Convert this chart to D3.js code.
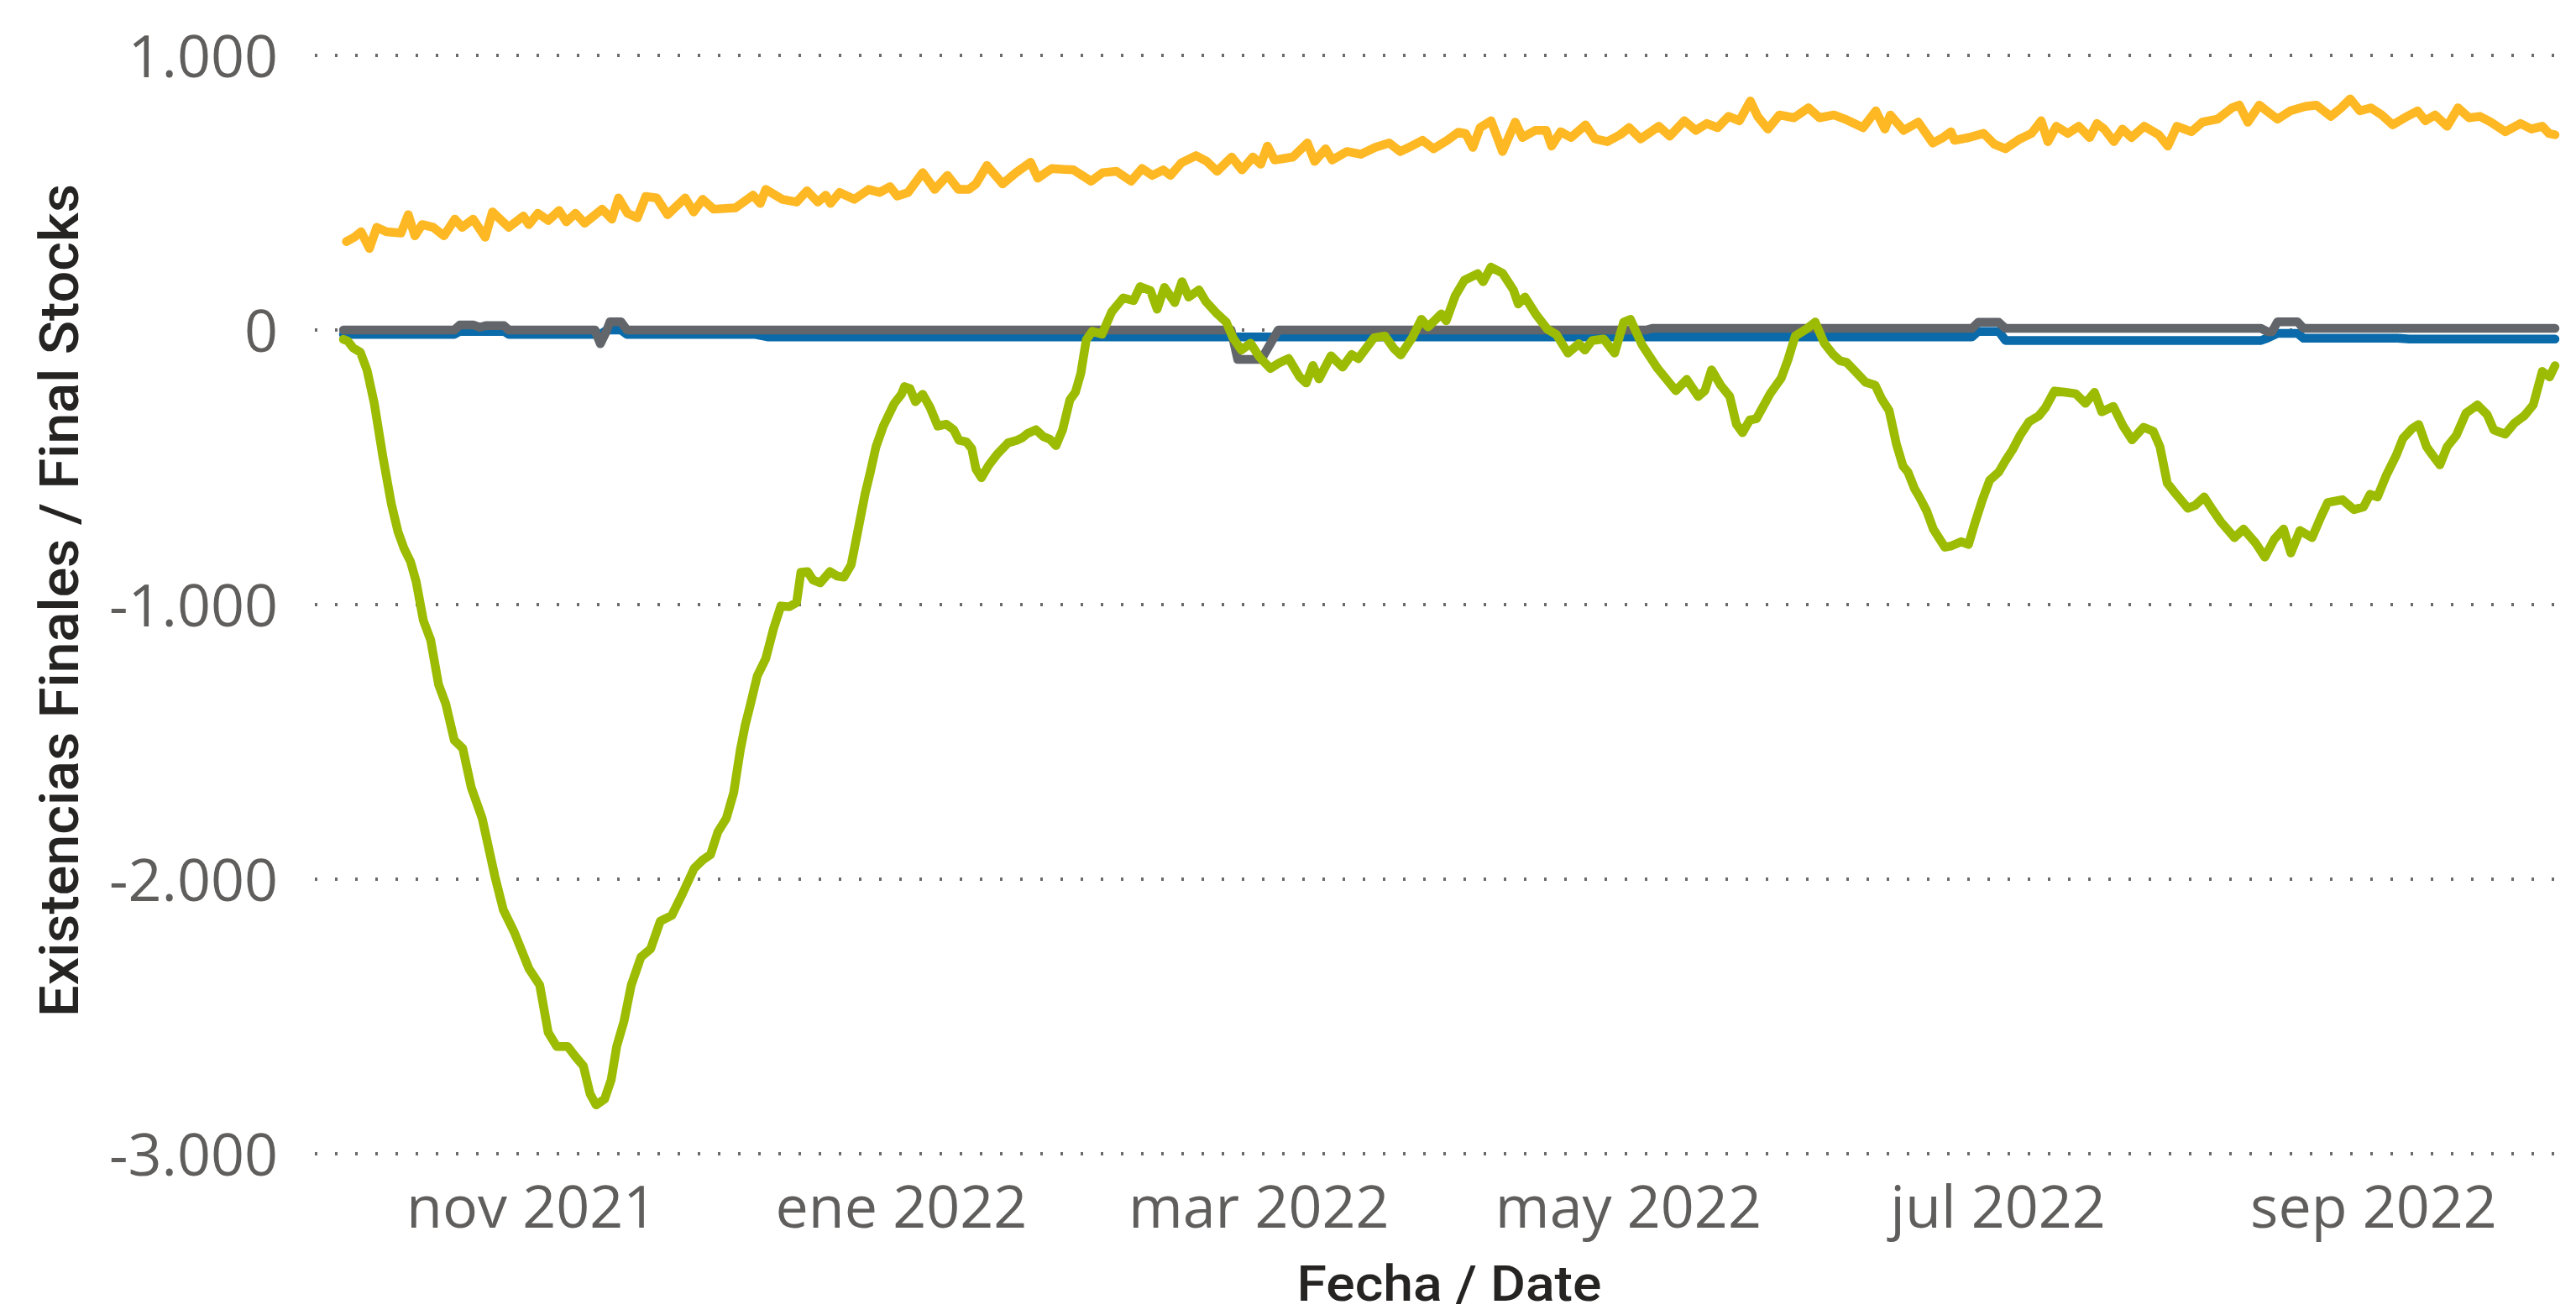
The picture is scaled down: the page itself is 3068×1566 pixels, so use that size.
<!DOCTYPE html>
<html><head><meta charset="utf-8">
<script src="https://cdn.jsdelivr.net/npm/d3@7"></script>
<style>html,body{margin:0;padding:0;background:#fff;overflow:hidden}</style>
</head><body>
<svg id="chart" width="3068" height="1566"></svg>
<script>
// ---------- DATA ----------
// x values are days since seriesStart
const seriesStart = "2021-10-01";
const seriesEnd = "2022-10-01";
const yTicks = [1000, 0, -1000, -2000, -3000];
const yTickLabels = ["1.000", "0", "-1.000", "-2.000", "-3.000"];
const xTickDates = ["2021-11-01", "2022-01-01", "2022-03-01", "2022-05-01", "2022-07-01", "2022-09-01"];
const xTickLabels = ["nov 2021", "ene 2022", "mar 2022", "may 2022", "jul 2022", "sep 2022"];
const xTitle = "Fecha / Date";
const yTitle = "Existencias Finales / Final Stocks";

const orangePoints = [[0.5,322],[1.8,338],[2.9,358],[4.3,297],[5.5,374],[7.1,358],[9.5,353],[10.7,420],[11.8,343],[13.0,384],[14.8,374],[16.6,343],[18.4,404],[19.6,374],[21.4,404],[23.4,338],[24.6,430],[27.3,374],[29.7,415],[30.6,384],[32.1,425],[33.8,399],[35.6,435],[36.8,394],[38.3,425],[39.8,389],[42.7,440],[44.3,404],[45.4,481],[46.9,425],[48.5,409],[49.9,486],[51.7,481],[53.5,420],[56.4,481],[57.8,430],[59.3,476],[61.1,440],[64.7,445],[67.6,491],[68.8,461],[69.7,512],[72.4,476],[74.8,466],[76.5,507],[78.3,466],[79.6,491],[80.4,461],[81.9,501],[84.3,476],[86.7,512],[88.5,501],[90.2,522],[91.4,488],[93.2,501],[95.6,573],[97.6,512],[99.7,563],[101.5,512],[103.2,512],[104.4,532],[106.2,599],[108.8,532],[111.0,573],[113.4,611],[114.6,553],[116.9,588],[120.5,583],[123.4,542],[125.3,573],[127.6,578],[130.0,542],[131.8,588],[133.5,563],[135.3,583],[136.5,563],[138.3,609],[140.7,635],[142.5,614],[144.2,578],[146.6,630],[148.3,583],[150.1,630],[151.4,604],[152.5,670],[153.7,619],[156.7,630],[159.1,681],[160.3,614],[162.1,660],[163.2,619],[165.6,650],[167.9,640],[170.3,665],[172.6,681],[174.4,650],[176.3,670],[178.1,691],[179.9,660],[182.2,691],[184.0,720],[185.2,716],[186.4,665],[187.6,737],[189.4,762],[191.3,650],[193.4,757],[194.6,701],[196.7,727],[198.5,727],[199.4,670],[200.9,722],[202.6,701],[205.0,747],[206.6,696],[208.6,686],[210.7,711],[212.2,737],[214.1,696],[217.1,742],[218.9,706],[221.3,762],[223.2,727],[225.0,752],[226.8,737],[228.6,778],[230.4,762],[232.2,834],[233.4,778],[235.1,732],[237.0,783],[239.4,773],[241.8,809],[243.6,773],[246.0,783],[247.8,768],[250.8,737],[252.9,798],[254.4,732],[255.3,783],[257.5,727],[259.9,757],[262.3,681],[264.0,701],[265.3,722],[265.9,691],[268.3,701],[270.7,716],[272.5,676],[274.3,660],[276.7,696],[278.6,716],[280.2,762],[281.3,686],[282.7,742],[284.6,716],[286.4,742],[288.2,701],[289.4,752],[290.6,732],[292.2,686],[293.6,732],[295.1,701],[297.2,742],[299.6,711],[301.1,670],[302.6,742],[305.0,722],[306.8,757],[309.3,768],[311.7,809],[312.9,819],[314.3,757],[316.2,819],[317.7,793],[319.2,768],[321.3,798],[323.8,814],[325.6,819],[328.0,778],[329.7,809],[331.2,842],[332.8,798],[334.6,809],[336.4,783],[338.2,747],[340.6,778],[342.3,798],[343.6,762],[345.2,783],[347.2,742],[349.0,809],[350.8,773],[352.6,778],[354.4,757],[356.8,722],[359.3,752],[361.1,732],[362.9,742],[364.0,716],[365.0,711]];

const bluePoints = [[0,-16],[18.3,-16],[19.2,-5],[26.5,-5],[27.3,-16],[42.4,-16],[43.5,0],[45.8,0],[46.8,-16],[68,-16],[70,-25],[268.8,-25],[269.8,-5],[273.2,-5],[274.3,-38],[316.5,-38],[317.5,-30],[319.2,-12],[322.5,-12],[323.5,-30],[339,-30],[341,-33],[365,-33]];

const grayPoints = [[0,0],[18.3,0],[19.2,18],[21.5,18],[22.5,10],[23.5,16],[26.5,16],[27.3,0],[41.5,0],[42.4,-50],[43.3,-10],[44.0,30],[45.8,30],[46.8,0],[146.5,0],[147.6,-107],[151.5,-107],[154.3,0],[215,0],[216,6],[268.8,6],[269.8,28],[273.2,28],[274.3,6],[316.5,6],[317.5,-6],[318.3,-6],[319.2,30],[322.5,30],[323.5,6],[365,6]];

const greenPoints = [[0,-34],[0.7,-40],[1.6,-65],[2.8,-81],[3.9,-146],[5.1,-268],[6.5,-460],[7.9,-632],[9.0,-734],[10.0,-795],[11.1,-845],[12.0,-916],[13.2,-1058],[14.4,-1129],[15.7,-1291],[16.9,-1362],[18.3,-1494],[19.7,-1524],[21.1,-1666],[22.9,-1778],[25.0,-1990],[26.4,-2112],[28.2,-2193],[30.6,-2325],[32.4,-2386],[33.8,-2558],[35.2,-2609],[37.0,-2609],[38.4,-2649],[39.6,-2680],[40.7,-2781],[41.7,-2822],[43.1,-2801],[44.2,-2730],[45.1,-2609],[46.3,-2518],[47.5,-2386],[49.1,-2284],[50.7,-2254],[52.3,-2153],[54.2,-2132],[56.0,-2051],[57.9,-1960],[59.3,-1930],[60.6,-1910],[61.8,-1828],[63.2,-1778],[64.4,-1686],[65.5,-1530],[66.3,-1440],[67.1,-1370],[68.3,-1260],[69.7,-1197],[71.0,-1087],[72.2,-1005],[73.6,-1008],[74.8,-992],[75.5,-882],[76.6,-880],[77.5,-910],[78.7,-921],[80.3,-880],[81.5,-896],[82.6,-900],[83.8,-855],[84.9,-732],[86.1,-596],[87.0,-514],[87.9,-425],[89.1,-350],[90.9,-268],[92.1,-234],[92.6,-206],[93.5,-213],[94.4,-261],[95.6,-234],[96.8,-281],[98.1,-350],[99.5,-343],[100.7,-363],[101.6,-402],[102.8,-407],[103.7,-432],[104.4,-507],[105.3,-538],[106.5,-493],[107.9,-452],[109.7,-411],[111.1,-402],[112.0,-393],[112.9,-377],[114.3,-363],[115.5,-388],[116.6,-398],[117.6,-421],[118.7,-363],[119.9,-254],[120.8,-227],[121.7,-158],[122.6,-36],[123.6,-5],[125.2,-15],[126.8,66],[128.7,117],[130.4,107],[131.5,158],[133.2,143],[134.3,76],[135.5,155],[137.2,100],[138.4,176],[139.5,120],[141.2,146],[142.3,105],[144.2,59],[145.7,29],[146.8,-28],[148.2,-73],[149.7,-48],[151.2,-99],[153.0,-140],[154.5,-119],[156.0,-104],[157.8,-170],[158.9,-193],[160.0,-129],[161.0,-178],[163.0,-94],[164.9,-135],[166.4,-89],[167.5,-104],[170.1,-28],[171.9,-22],[173.4,-68],[174.5,-91],[176.4,-28],[177.9,39],[179.0,11],[181.2,59],[182.0,34],[183.5,125],[185.0,181],[187.2,205],[188.1,176],[189.4,229],[191.3,207],[193.1,146],[193.9,95],[195.0,120],[196.9,54],[198.7,3],[200.2,-17],[202.1,-84],[203.9,-50],[204.9,-73],[206.1,-38],[208.0,-33],[209.8,-84],[211.3,29],[212.4,39],[214.3,-53],[216.9,-140],[219.9,-221],[221.7,-180],[223.6,-242],[224.7,-221],[225.8,-145],[227.3,-201],[228.8,-242],[229.9,-343],[230.9,-374],[232.1,-328],[233.2,-323],[235.5,-231],[237.3,-175],[238.4,-109],[239.6,-22],[241.4,3],[242.9,29],[244.4,-48],[245.9,-90],[247.0,-112],[248.1,-118],[249.5,-150],[251.2,-190],[252.8,-201],[253.9,-252],[255.1,-293],[256.3,-415],[257.4,-496],[258.2,-517],[259.3,-578],[260.1,-608],[261.3,-659],[262.4,-725],[264.3,-791],[265.4,-786],[267.0,-771],[268.2,-781],[269.3,-700],[270.5,-618],[271.7,-547],[273.2,-517],[274.3,-476],[275.5,-435],[276.7,-384],[278.2,-334],[279.8,-313],[280.9,-283],[282.4,-222],[284.3,-227],[285.9,-232],[287.5,-267],[289.0,-227],[290.2,-298],[292.1,-278],[293.7,-349],[295.2,-400],[297.1,-354],[298.7,-369],[299.8,-425],[301.0,-557],[302.1,-588],[304.4,-649],[305.6,-639],[307.1,-608],[308.3,-649],[309.9,-700],[312.1,-756],[313.6,-725],[314.8,-756],[315.6,-776],[317.1,-827],[318.7,-761],[320.2,-725],[321.4,-812],[322.9,-730],[324.9,-756],[326.4,-679],[327.5,-628],[329.9,-618],[331.8,-654],[333.4,-644],[334.5,-598],[335.7,-608],[337.2,-527],[338.8,-456],[339.9,-395],[341.4,-359],[342.5,-344],[343.8,-425],[344.8,-456],[346.0,-491],[347.2,-425],[348.7,-384],[350.3,-303],[352.2,-273],[353.8,-308],[354.9,-364],[356.8,-379],[358.3,-339],[359.9,-313],[361.4,-273],[362.9,-151],[364.1,-171],[365.0,-130]];

// ---------- DRAWING ----------
const svg = d3.select("#chart");
const parseDate = d3.utcParse("%Y-%m-%d");
const t0 = parseDate(seriesStart);
const dayToDate = d => new Date(t0.getTime() + d * 864e5);

const x = d3.scaleUtc().domain([t0, parseDate(seriesEnd)]).range([409, 3043]);
const y = d3.scaleLinear().domain([-3000, 1000]).range([1374, 66]);

const gridLeft = 375, gridRight = 3045;
const tickFont = "'Segoe UI', 'Open Sans', sans-serif";
const titleFont = "'DIN', Roboto, 'Noto Sans', sans-serif";

// gridlines
svg.append("g").selectAll("line").data(yTicks).join("line")
  .attr("x1", gridLeft).attr("x2", gridRight)
  .attr("y1", d => y(d)).attr("y2", d => y(d))
  .attr("stroke", "#6a6a6a").attr("stroke-width", 4)
  .attr("stroke-dasharray", "3,21");

// y axis labels
const yAxis = d3.axisLeft(y).tickValues(yTicks)
  .tickFormat((d, i) => yTickLabels[i]).tickSize(0).tickPadding(0);
svg.append("g").attr("transform", "translate(331,0)").call(yAxis)
  .call(g => g.select(".domain").remove())
  .selectAll("text")
  .attr("font-family", tickFont).attr("font-size", 70)
  .attr("fill", "#605E5C").attr("dy", "0.36em");

// x axis labels
const xAxis = d3.axisBottom(x).tickValues(xTickDates.map(parseDate))
  .tickFormat((d, i) => xTickLabels[i]).tickSize(0).tickPadding(0);
svg.append("g").attr("transform", "translate(0,1412)").call(xAxis)
  .call(g => g.select(".domain").remove())
  .selectAll("text")
  .attr("font-family", tickFont).attr("font-size", 70)
  .attr("fill", "#605E5C").attr("dy", "0.71em");

// lines
const line = d3.line().x(d => x(dayToDate(d[0]))).y(d => y(d[1])).curve(d3.curveLinear);
const series = [
  {pts: orangePoints, color: "#FDB823"},
  {pts: bluePoints, color: "#0B6BAA"},
  {pts: grayPoints, color: "#62666B"},
  {pts: greenPoints, color: "#9CBB03"}
];
svg.append("g").selectAll("path").data(series).join("path")
  .attr("d", s => line(s.pts))
  .attr("fill", "none").attr("stroke", s => s.color)
  .attr("stroke-width", 10.5).attr("stroke-linejoin", "round").attr("stroke-linecap", "round");

// titles
svg.append("text").text(xTitle)
  .attr("x", 1726).attr("y", 1549).attr("text-anchor", "middle")
  .attr("font-family", titleFont).attr("font-weight", 500).attr("font-size", 60)
  .attr("fill", "#252423")
  .attr("textLength", 363).attr("lengthAdjust", "spacingAndGlyphs");

svg.append("text").text(yTitle)
  .attr("transform", "translate(93,715) rotate(-90)")
  .attr("text-anchor", "middle")
  .attr("font-family", titleFont).attr("font-weight", 500).attr("font-size", 64)
  .attr("fill", "#252423")
  .attr("textLength", 992).attr("lengthAdjust", "spacingAndGlyphs");
</script>
</body></html>
